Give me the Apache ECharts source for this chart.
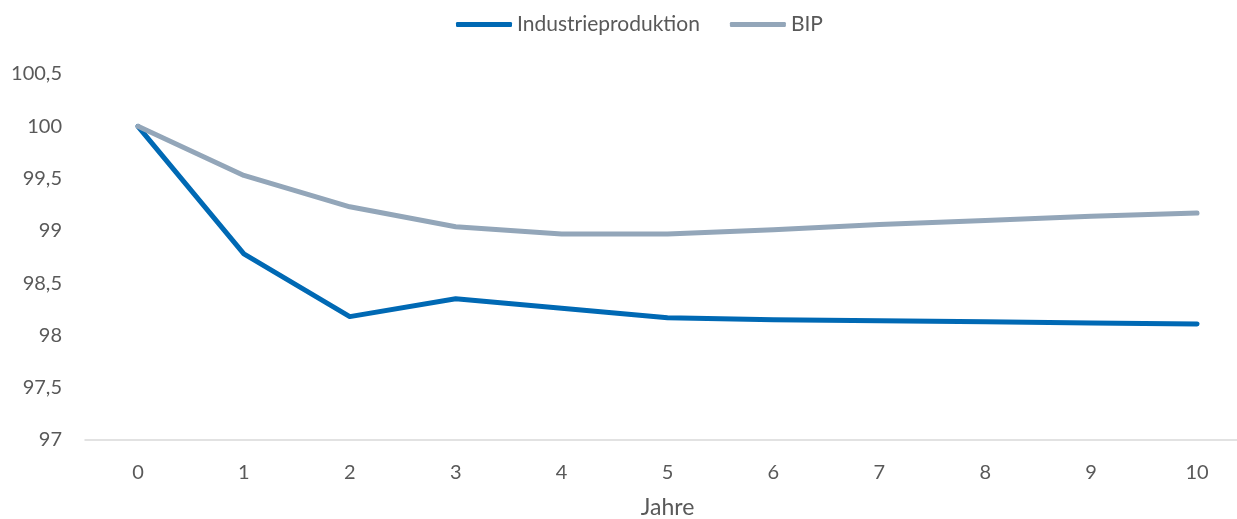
<!DOCTYPE html>
<html>
<head>
<meta charset="utf-8">
<script src="https://cdn.jsdelivr.net/npm/echarts@6/dist/echarts.min.js"></script>
<style>html,body{margin:0;padding:0;background:#fff;}#c{width:1237px;height:519px;}</style>
</head>
<body>
<div id="c"></div>
<script>
const years = ['0','1','2','3','4','5','6','7','8','9','10'];
const industrie = [100, 98.78, 98.18, 98.35, 98.26, 98.17, 98.15, 98.14, 98.13, 98.12, 98.11];
const bip = [100, 99.53, 99.23, 99.04, 98.97, 98.97, 99.01, 99.06, 99.10, 99.14, 99.17];
const yMin = 97, yMax = 100.5, yStep = 0.5;

const chart = echarts.init(document.getElementById('c'));
const txt = '#595959';
const font = 'Lato';
chart.setOption({
  animation: false,
  textStyle: {fontFamily: font},
  legend: {
    top: 9, left: 451,
    icon: 'roundRect', itemWidth: 56, itemHeight: 5, itemGap: 30,
    textStyle: {color: txt, fontSize: 21, fontFamily: font},
    data: ['Industrieproduktion', 'BIP']
  },
  grid: {left: 85, right: -13, top: 74, bottom: 79, containLabel: false, outerBoundsMode: 'none'},
  xAxis: {
    type: 'category', data: years, boundaryGap: true,
    name: 'Jahre', nameLocation: 'middle', nameGap: 56,
    nameTextStyle: {color: txt, fontSize: 23, fontFamily: font},
    axisLine: {lineStyle: {color: '#D9D9D9', width: 1.5}},
    axisTick: {show: false},
    axisLabel: {color: txt, fontSize: 20, margin: 23, fontFamily: font}
  },
  yAxis: {
    type: 'value', min: yMin, max: yMax, interval: yStep,
    axisLine: {show: false}, axisTick: {show: false},
    splitLine: {show: false},
    axisLabel: {color: txt, fontSize: 20, margin: 23, fontFamily: font,
      formatter: v => String(Math.round(v * 10) / 10).replace('.', ',')}
  },
  series: [
    {name: 'Industrieproduktion', type: 'line', data: industrie, showSymbol: false,
     lineStyle: {color: '#0069B4', width: 5, cap: 'round', join: 'round'}, itemStyle: {color: '#0069B4'}},
    {name: 'BIP', type: 'line', data: bip, showSymbol: false,
     lineStyle: {color: '#93A6B9', width: 5, cap: 'round', join: 'round'}, itemStyle: {color: '#93A6B9'}}
  ]
});
</script>
</body>
</html>
